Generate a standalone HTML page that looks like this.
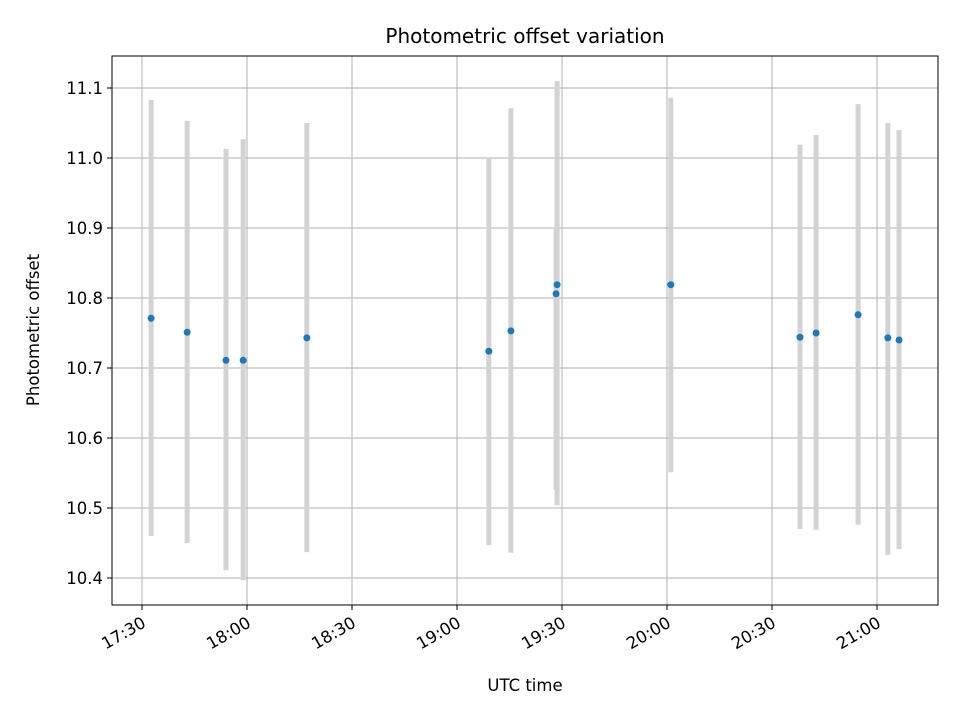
<!DOCTYPE html>
<html><head><meta charset="utf-8"><style>
body{margin:0;background:#fff;font-family:"DejaVu Sans","Liberation Sans",sans-serif;}
</style></head><body>
<svg id="chart" width="960" height="720" xmlns="http://www.w3.org/2000/svg" font-family="DejaVu Sans, Liberation Sans, sans-serif"></svg>
<script>
const times = ["17:32.6","17:42.9","17:54.0","17:58.9","18:17.1","19:09.1","19:15.4","19:28.6","19:28.3","20:01.1","20:38.0","20:42.6","20:54.6","21:03.1","21:06.3"];
const offsets = [10.771,10.751,10.711,10.711,10.743,10.724,10.753,10.819,10.806,10.819,10.744,10.750,10.776,10.743,10.740];
const upper = [11.083,11.053,11.013,11.027,11.050,11.001,11.071,11.110,10.900,11.086,11.019,11.033,11.077,11.050,11.040];
const lower = [10.460,10.450,10.411,10.397,10.437,10.447,10.436,10.504,10.526,10.551,10.470,10.469,10.476,10.433,10.441];
const yTicks = [10.4,10.5,10.6,10.7,10.8,10.9,11.0,11.1];
const xTickLabels = ["17:30","18:00","18:30","19:00","19:30","20:00","20:30","21:00"];

const NS="http://www.w3.org/2000/svg";
const svg=document.getElementById('chart');
const L=112,R=938,T=56,B=605;
function mins(s){const [h,m]=s.split(':');return (+h)*60+parseFloat(m);}
const x0=mins("17:30");
function xs(t){return 142+(mins(t)-x0)*3.5;}
function ys(v){return 578-(v-10.4)*700;}
function mk(tag,attrs,name){const e=document.createElementNS(NS,tag);for(const k in attrs)e.setAttribute(k,attrs[k]);


svg.appendChild(e);return e;}

yTicks.forEach(v=>{const y=ys(v);
mk('line',{x1:L,x2:R,y1:y,y2:y,stroke:'#b0b0b0','stroke-width':1},'y-grid-line');
mk('line',{x1:L-5,x2:L,y1:y,y2:y,stroke:'#000'},'y-tick');
const t=mk('text',{x:L-9,y:y+6,'text-anchor':'end','font-size':16.5,fill:'#000'},'y-tick-label');t.textContent=v.toFixed(1);});
xTickLabels.forEach(s=>{const x=xs(s);
mk('line',{x1:x,x2:x,y1:T,y2:B,stroke:'#b0b0b0','stroke-width':1},'x-grid-line');
mk('line',{x1:x,x2:x,y1:B,y2:B+5,stroke:'#000'},'x-tick');
const t=mk('text',{x:x+5,y:B+21,'text-anchor':'end','font-size':16.5,fill:'#000',transform:`rotate(-30 ${x+5} ${B+21})`},'x-tick-label');t.textContent=s;});

times.forEach((t,i)=>{const x=xs(t);
mk('line',{x1:x,x2:x,y1:ys(upper[i]),y2:ys(lower[i]),stroke:'#d3d3d3','stroke-width':5},'error-bar');});
times.forEach((t,i)=>{
mk('circle',{cx:xs(t),cy:ys(offsets[i]),r:3.5,fill:'#1f77b4'},'data-point');});

mk('rect',{x:L,y:T,width:R-L,height:B-T,fill:'none',stroke:'#000','stroke-width':1},'plot-frame');
let t=mk('text',{x:525,y:43,'text-anchor':'middle','font-size':20,fill:'#000'},'chart-title');t.textContent='Photometric offset variation';
t=mk('text',{x:525,y:691,'text-anchor':'middle','font-size':16.5,fill:'#000'},'x-axis-title');t.textContent='UTC time';
t=mk('text',{x:39,y:330,'text-anchor':'middle','font-size':16.5,fill:'#000',transform:'rotate(-90 39 330)'},'y-axis-title');t.textContent='Photometric offset';
</script>
</body></html>
